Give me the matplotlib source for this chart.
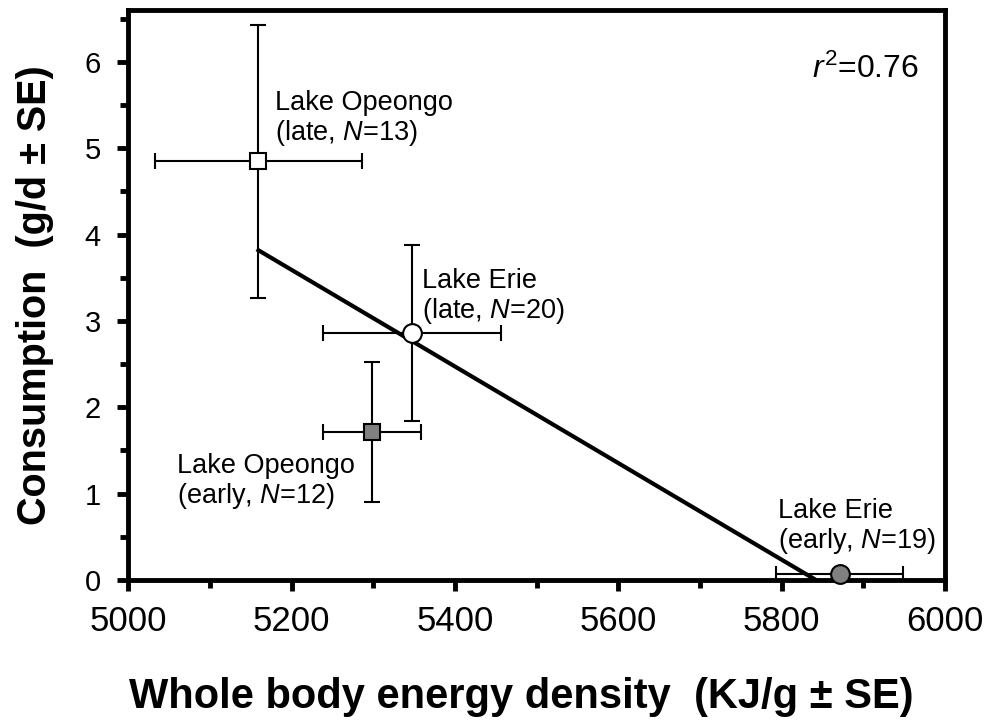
import matplotlib
matplotlib.use('Agg')
import matplotlib.pyplot as plt
from matplotlib.ticker import MultipleLocator

plt.rcParams['font.family'] = ['Liberation Sans', 'DejaVu Sans']
plt.rcParams['mathtext.fontset'] = 'custom'
plt.rcParams['mathtext.rm'] = 'Liberation Sans'
plt.rcParams['mathtext.it'] = 'Liberation Sans:italic'

# energy density (KJ/g) and consumption (g/d) with SE
groups = ['Opeongo late', 'Erie late', 'Opeongo early', 'Erie early']
energy = [5159, 5347, 5298, 5871]
energy_se = [127, 109, 60, 78]
consumption = [4.85, 2.86, 1.71, 0.07]
consumption_se = [1.58, 1.02, 0.81, 0.0]
markers = ['s', 'o', 's', 'o']
faces = ['white', 'white', '#808080', '#808080']
labels = ['Lake Opeongo\n(late, $\\mathit{N}$=13)',
          'Lake Erie\n(late, $\\mathit{N}$=20)',
          'Lake Opeongo\n(early, $\\mathit{N}$=12)',
          'Lake Erie\n(early, $\\mathit{N}$=19)']

# regression line ends
fit_x = [5157, 5842]
fit_y = [3.83, 0.0]

fig = plt.figure(figsize=(9.92, 7.23), dpi=100)
ax = fig.add_axes([0.1295, 0.1978, 0.8231, 0.7884])

ax.plot(fit_x, fit_y, color='black', linewidth=3, solid_capstyle='butt', zorder=2)

for i in range(len(groups)):
    ax.errorbar(energy[i], consumption[i], xerr=energy_se[i],
                yerr=consumption_se[i] if consumption_se[i] > 0 else None,
                fmt='none', ecolor='black', elinewidth=1.5, capsize=6,
                capthick=1.5, zorder=3, clip_on=False)
    size = 12 if markers[i] == 's' else 13.5
    ax.plot(energy[i], consumption[i], marker=markers[i], markersize=size,
            markerfacecolor=faces[i], markeredgecolor='black',
            markeredgewidth=1.5, linestyle='none', zorder=4, clip_on=False)

# label anchors: left edge, baseline of second line
label_pos = [(5179, 5.09), (5360, 3.03), (5059, 0.89), (5795, 0.37)]
for (lx, ly), txt in zip(label_pos, labels):
    ax.text(lx, ly, txt, fontsize=19.5, ha='left', va='baseline', linespacing=1.1)

ax.text(5968, 5.815, '$\\mathit{r}^2$=0.76', fontsize=23, ha='right', va='baseline')

ax.set_xlim(5000, 6000)
ax.set_ylim(0, 6.6)
ax.xaxis.set_major_locator(MultipleLocator(200))
ax.xaxis.set_minor_locator(MultipleLocator(100))
ax.yaxis.set_major_locator(MultipleLocator(1))
ax.yaxis.set_minor_locator(MultipleLocator(0.5))

for side in ['left', 'right', 'top', 'bottom']:
    ax.spines[side].set_linewidth(3.5)

ax.tick_params(which='major', direction='out', length=8, width=3.5)
ax.tick_params(which='minor', direction='out', length=6, width=3.5)
ax.tick_params(axis='x', which='major', labelsize=25, pad=10)
ax.tick_params(axis='y', which='major', labelsize=21, pad=12)

ax.set_xlabel('Whole body energy density  (KJ/g \u00b1 SE)', fontsize=30,
              fontweight='bold', va='baseline')
ax.xaxis.set_label_coords(0.4807, -0.2246)
ax.set_ylabel('Consumption  (g/d \u00b1 SE)', fontsize=28.5,
              fontweight='bold', labelpad=22)

fig.savefig('out.png', dpi=100)
plt.close(fig)
